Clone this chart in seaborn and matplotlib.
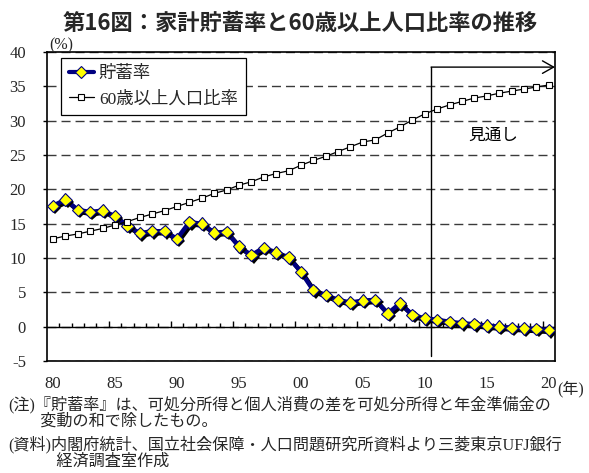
import numpy as np
import pandas as pd
import matplotlib
matplotlib.use("Agg")
import matplotlib.pyplot as plt
import matplotlib.patheffects as pe
from matplotlib.lines import Line2D
import seaborn as sns

# ---- data -------------------------------------------------------------
years = list(range(1980, 2021))

# household saving rate (%)
saving_rate = [17.6, 18.5, 17.0, 16.7, 16.9, 16.1, 14.7, 13.6, 13.9, 13.9,
               12.8, 15.2, 15.0, 13.7, 13.8, 11.7, 10.4, 11.5, 10.8, 10.1,
               8.0, 5.3, 4.6, 3.9, 3.5, 3.8, 3.9, 1.9, 3.4, 1.7,
               1.2, 1.0, 0.7, 0.5, 0.35, 0.15, 0.0, -0.15, -0.25, -0.35, -0.5]

# share of population aged 60 and over (%)
elderly_ratio = [12.8, 13.2, 13.5, 13.9, 14.3, 14.8, 15.3, 15.9, 16.4, 16.9,
                 17.5, 18.1, 18.7, 19.4, 19.9, 20.6, 21.1, 21.8, 22.3, 22.7,
                 23.5, 24.2, 24.8, 25.5, 26.2, 26.9, 27.2, 28.2, 29.1, 30.1,
                 31.0, 31.7, 32.3, 32.8, 33.3, 33.6, 34.0, 34.3, 34.6, 34.9, 35.2]

series_names = ["貯蓄率", "60歳以上人口比率"]
xtick_years = [1980, 1985, 1990, 1995, 2000, 2005, 2010, 2015, 2020]
xtick_labels = ["80", "85", "90", "95", "00", "05", "10", "15", "20"]
ytick_values = [-5, 0, 5, 10, 15, 20, 25, 30, 35, 40]
ytick_labels = ["-5", "0", "5", "10", "15", "20", "25", "30", "35", "40"]
forecast_start = 2010.5

df = pd.DataFrame({"year": years, "saving": saving_rate, "elderly": elderly_ratio})

# ---- style ------------------------------------------------------------
sns.set_style("white")
plt.rcParams["font.family"] = ["Noto Sans CJK JP", "DejaVu Sans"]
plt.rcParams["axes.unicode_minus"] = False
MIX = ["Liberation Serif", "Noto Sans CJK JP"]
NAVY = "#000080"

W, H = 589, 473
fig = plt.figure(figsize=(W / 100, H / 100), dpi=100)
fig.patch.set_facecolor("white")


def fx(px):
    return px / W


def fy(py):
    return 1 - py / H


ax_l, ax_r, ax_t, ax_b = 46.8, 555, 52, 361
ax = fig.add_axes([fx(ax_l), fy(ax_b), (ax_r - ax_l) / W, (ax_b - ax_t) / H])
ax.set_facecolor("white")

# saving rate: thick navy line with a drop shadow
sns.lineplot(data=df, x="year", y="saving", ax=ax, color=NAVY, lw=3.2,
             zorder=4, legend=False)
save_line = ax.lines[-1]
save_line.set_path_effects([pe.SimpleLineShadow(offset=(1.5, -1.5),
                                                shadow_color="black", alpha=1),
                            pe.Normal()])
sns.lineplot(data=df, x="year", y="saving", ax=ax, linestyle="", marker="D",
             markersize=6.3, markerfacecolor="#FFFF00", markeredgecolor=NAVY,
             markeredgewidth=0.8, zorder=5, legend=False)
save_marks = ax.lines[-1]
save_marks.set_path_effects([pe.SimplePatchShadow(offset=(1.6, -1.6),
                                                  shadow_rgbFace="black", alpha=1),
                             pe.Normal()])

# population share aged 60+: thin black line with open squares
sns.lineplot(data=df, x="year", y="elderly", ax=ax, color="black", lw=0.9,
             marker="s", markersize=5, markerfacecolor="white",
             markeredgecolor="black", markeredgewidth=0.8, zorder=6, legend=False)

# axes limits and ticks
ax.set_xlim(1979.5, 2020.5)
ax.set_ylim(-5, 40)
ax.set_yticks(ytick_values)
ax.set_yticklabels(ytick_labels, fontfamily=MIX, fontsize=12)
ax.set_xticks(xtick_years)
ax.set_xticklabels(xtick_labels, fontfamily=MIX, fontsize=12)
ax.tick_params(axis="y", direction="out", length=3, width=1, color="black",
               pad=12, left=True)
ax.tick_params(axis="x", length=0, pad=11)
ax.set_xlabel("")
ax.set_ylabel("")

for s in ax.spines.values():
    s.set_color("black")
    s.set_linewidth(1.2)

# dashed horizontal grid, solid zero line with category ticks
ax.grid(False)
ax.yaxis.grid(True, color="#3a3a3a", linestyle=(0, (6.5, 3.6)), lw=1)
ax.set_axisbelow(True)
ax.axhline(0, color="black", lw=1, zorder=3)
bounds = np.arange(1980.5, 2020.5, 1.0)
tick_h = np.where(((bounds - 1979.5) % 5) == 0, 0.85, 0.6)
ax.vlines(bounds, 0, tick_h, color="black", lw=1, zorder=3)

# forecast bracket
ax.plot([forecast_start, forecast_start], [-4.2, 37.8], color="black", lw=1,
        zorder=3)
ax.annotate("", xy=(2020.5, 37.8), xytext=(forecast_start, 37.8),
            arrowprops=dict(arrowstyle="->,head_length=0.8,head_width=0.45",
                            lw=1, color="black", shrinkA=0, shrinkB=0,
                            mutation_scale=10),
            annotation_clip=False, zorder=3)
ax.text(2015.5, 27.8, "見通し", ha="center", va="center", fontsize=12,
        color="black")

# legend
handles = [
    Line2D([], [], color=NAVY, lw=3, marker="D", markersize=6,
           markerfacecolor="#FFFF00", markeredgecolor=NAVY, markeredgewidth=0.8),
    Line2D([], [], color="black", lw=0.9, marker="s", markersize=5,
           markerfacecolor="white", markeredgecolor="black", markeredgewidth=0.8),
]
leg = ax.legend(handles, series_names, loc="upper left",
                bbox_to_anchor=(fx(60.7), fy(58.3)), bbox_transform=fig.transFigure,
                borderaxespad=0, frameon=True, fancybox=False, framealpha=1,
                prop={"family": MIX, "size": 12.5}, handlelength=1.45,
                handletextpad=0.3, labelspacing=0.5, borderpad=0.45)
leg.get_frame().set_edgecolor("black")
leg.get_frame().set_linewidth(0.9)
leg.set_zorder(10)

# title and surrounding texts
fig.text(fx(300), fy(23), "第16図：家計貯蓄率と60歳以上人口比率の推移",
         ha="center", va="center", fontsize=16, fontweight="bold")
fig.text(fx(49), fy(45), "(%)", ha="left", va="center", fontsize=11.5,
         fontfamily=MIX)
fig.text(fx(557), fy(389), "(年)", ha="left", va="center", fontsize=11.5,
         fontfamily=MIX)

notes = [
    ("(注)『貯蓄率』は、可処分所得と個人消費の差を可処分所得と年金準備金の", 405),
    ("　　変動の和で除したもの。", 422),
    ("(資料)内閣府統計、国立社会保障・人口問題研究所資料より三菱東京UFJ銀行", 445),
    ("　　　経済調査室作成", 462),
]
for txt, yy in notes:
    fig.text(fx(8), fy(yy), txt, ha="left", va="center", fontsize=11.6,
             fontfamily=MIX)

fig.savefig("out.png", dpi=100, facecolor="white")
